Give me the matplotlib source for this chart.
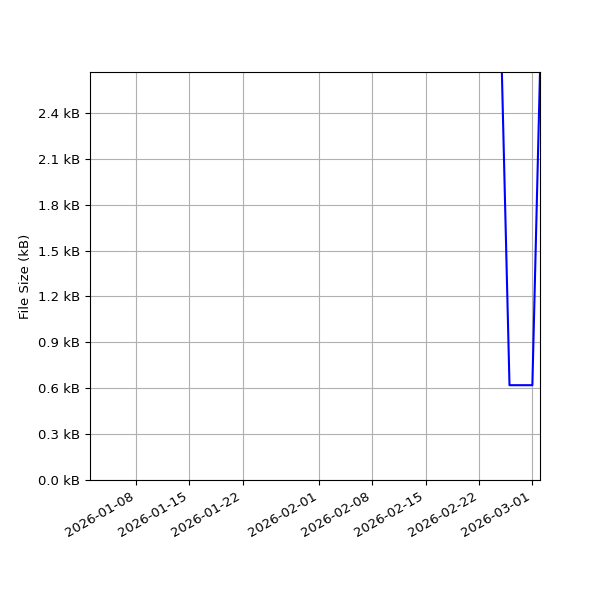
import numpy as np
import matplotlib
matplotlib.use("Agg")
import matplotlib.pyplot as plt
import matplotlib.dates as mdates
import matplotlib.ticker as mticker
from datetime import datetime

# file size history (kB)
dates = [datetime(2026, 2, 25), datetime(2026, 2, 26), datetime(2026, 3, 1), datetime(2026, 3, 2)]
sizes_kb = [2.668, 0.62, 0.62, 2.668]

x_start = datetime(2026, 1, 2)
x_end = datetime(2026, 3, 2)

fig, ax = plt.subplots(figsize=(6, 6), dpi=100)
ax.plot(dates, sizes_kb, color='blue', linewidth=1.5)
ax.grid()
ax.set_xlim(x_start, x_end)
ax.set_ylim(0, 2.668)
ax.yaxis.set_major_locator(mticker.MultipleLocator(0.3))
ax.yaxis.set_major_formatter(mticker.FuncFormatter(lambda v, p: f"{v:.1f} kB"))
ax.xaxis.set_major_locator(mdates.DayLocator(bymonthday=[1, 8, 15, 22]))
ax.xaxis.set_major_formatter(mdates.DateFormatter("%Y-%m-%d"))
ax.tick_params(labelsize=9.5)
ax.set_ylabel("File Size (kB)", fontsize=9.5)
fig.autofmt_xdate()
fig.subplots_adjust(left=0.15, right=0.9, top=0.88, bottom=0.2)
fig.savefig("out.png")
